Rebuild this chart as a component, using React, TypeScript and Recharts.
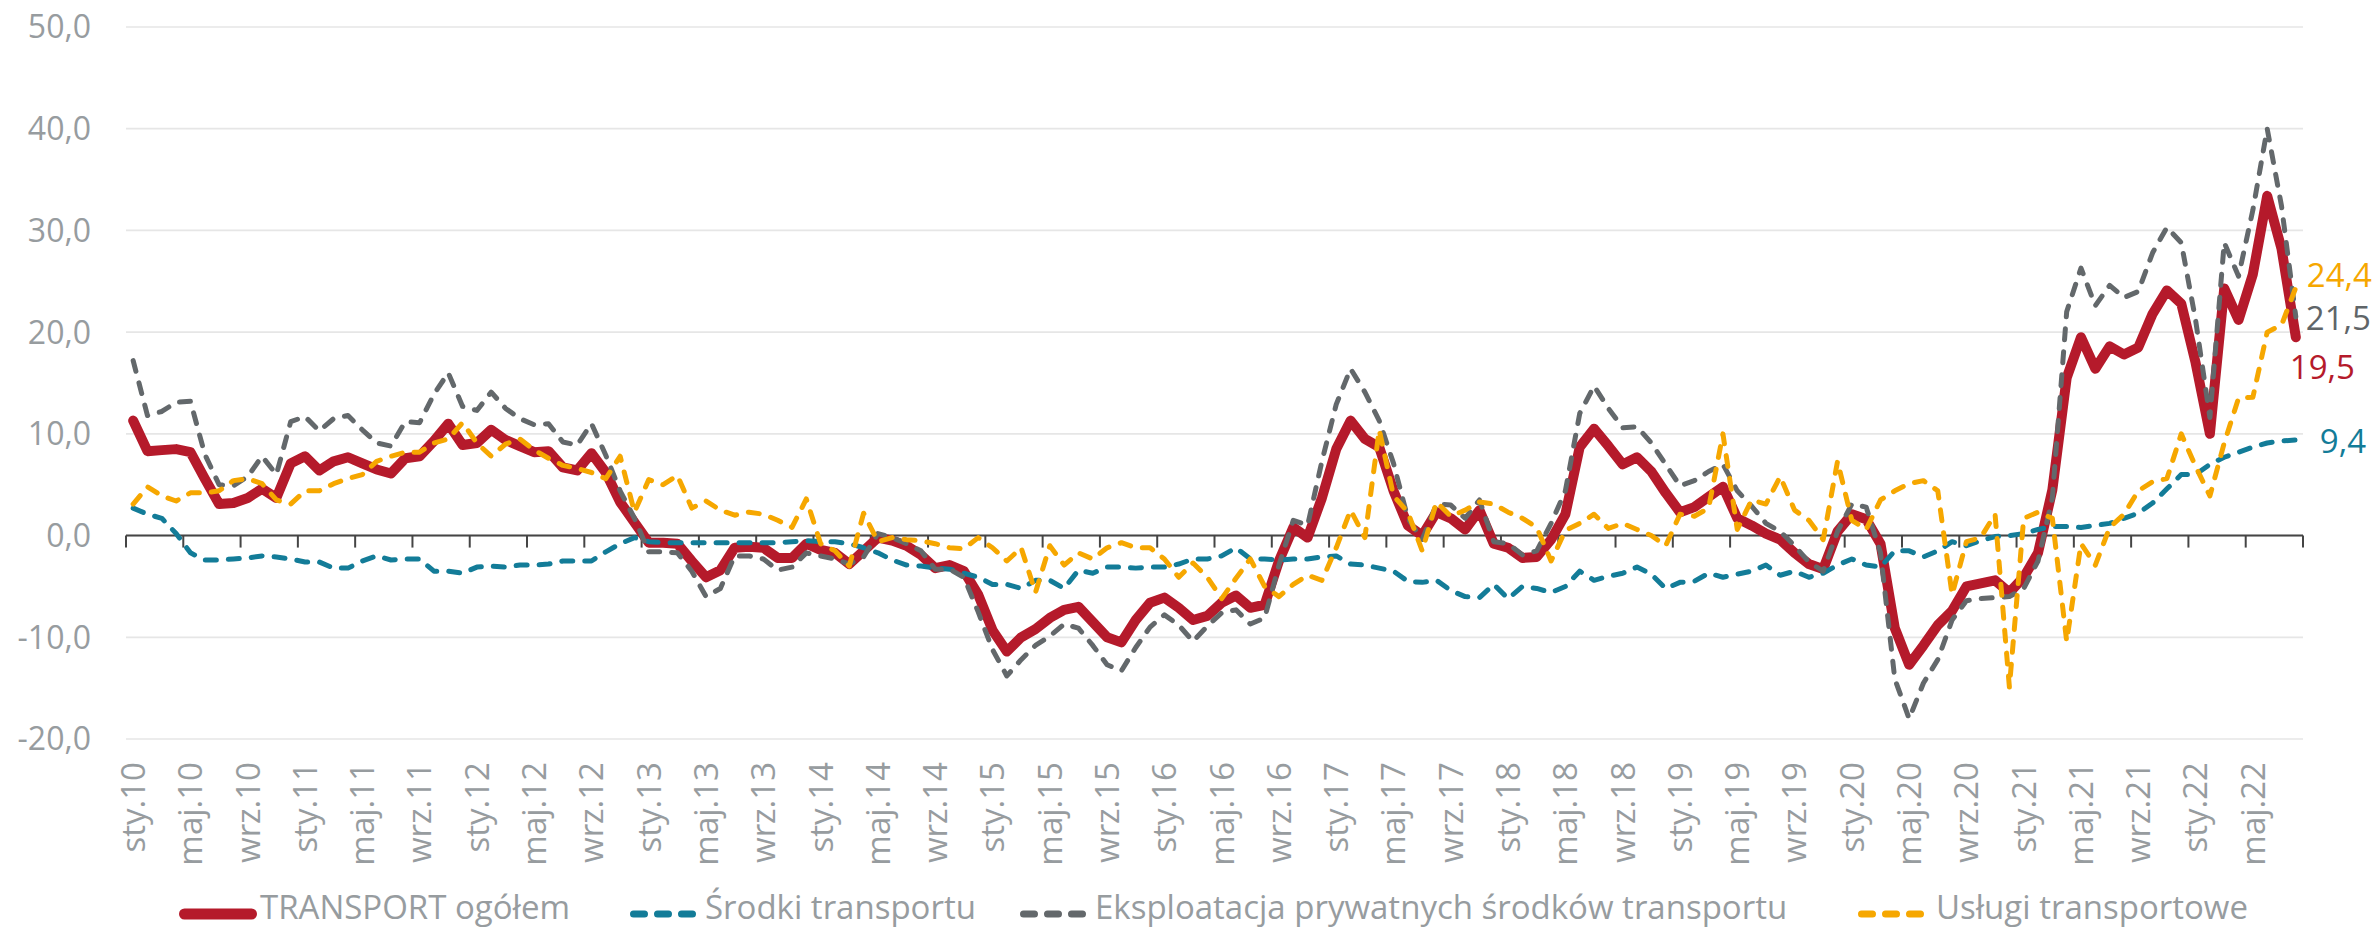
import React from "react"
import {
  LineChart,
  Line,
  XAxis,
  YAxis,
  CartesianGrid,
  ReferenceLine,
  Legend,
  LabelList,
} from "recharts"

const FONT = '"Open Sans", "Liberation Sans", sans-serif'
const TEXT_GRAY = "#979c9f"

const monthNames = ["sty", "lut", "mar", "kwi", "maj", "cze", "lip", "sie", "wrz", "paź", "lis", "gru"]
const yearLabels = ["10", "11", "12", "13", "14", "15", "16", "17", "18", "19", "20", "21", "22"]

const transport = [
  11.3, 8.3, 8.4, 8.5, 8.2, 5.6, 3.1, 3.2, 3.7, 4.6, 3.7, 7.1,
  7.8, 6.4, 7.3, 7.7, 7.1, 6.5, 6.1, 7.6, 7.8, 9.3, 11.0, 8.9,
  9.1, 10.4, 9.4, 8.8, 8.2, 8.3, 6.7, 6.4, 8.1, 6.2, 3.3, 1.3,
  -0.7, -0.7, -0.8, -2.5, -4.1, -3.4, -1.2, -1.1, -1.2, -2.2, -2.2, -0.8,
  -1.4, -1.7, -2.8, -1.5, -0.2, -0.5, -1.0, -1.9, -3.2, -2.9, -3.5, -5.8,
  -9.3, -11.4, -10.0, -9.2, -8.1, -7.3, -7.0, -8.5, -10.0, -10.5, -8.3, -6.6,
  -6.1, -7.1, -8.3, -7.9, -6.6, -5.9, -7.1, -6.8, -2.5, 0.8, -0.2, 3.7,
  8.5, 11.3, 9.5, 8.7, 4.4, 1.0, 0.0, 2.3, 1.7, 0.6, 2.5, -0.8,
  -1.2, -2.2, -2.1, -0.4, 2.1, 8.7, 10.5, 8.8, 7.0, 7.7, 6.3, 4.2,
  2.3, 2.8, 3.8, 4.8, 1.7, 1.0, 0.2, -0.4, -1.7, -2.8, -3.3, 0.4,
  2.1, 1.6, -0.8, -9.1, -12.7, -10.8, -8.8, -7.4, -5.0, -4.7, -4.4, -5.6,
  -4.1, -1.7, 4.5, 15.5, 19.5, 16.4, 18.6, 17.8, 18.5, 21.8, 24.1, 22.8,
  17.0, 10.0, 24.3, 21.2, 25.7, 33.4, 28.2, 19.5,
]

const srodki = [
  2.7, 2.1, 1.7, 0.2, -1.7, -2.4, -2.4, -2.3, -2.2, -2.0, -2.1, -2.3,
  -2.6, -2.6, -3.2, -3.2, -2.5, -2.0, -2.4, -2.3, -2.3, -3.5, -3.5, -3.7,
  -3.1, -3.0, -3.1, -2.9, -2.9, -2.8, -2.5, -2.5, -2.5, -1.6, -0.8, -0.2,
  -0.6, -0.7, -0.7, -0.7, -0.7, -0.7, -0.7, -0.7, -0.7, -0.7, -0.6, -0.5,
  -0.6, -0.6, -0.8, -1.2, -1.7, -2.4, -2.9, -3.0, -3.2, -3.3, -3.7, -4.1,
  -4.8, -4.8, -5.2, -4.4, -4.4, -5.2, -3.4, -3.7, -3.1, -3.1, -3.2, -3.1,
  -3.1, -2.8, -2.3, -2.3, -2.0, -1.2, -2.3, -2.3, -2.4, -2.3, -2.3, -2.1,
  -2.0, -2.8, -2.9, -3.2, -3.5, -4.5, -4.6, -4.4, -5.4, -6.0, -6.1, -4.8,
  -6.2, -5.0, -5.2, -5.6, -5.0, -3.5, -4.4, -4.0, -3.7, -3.1, -3.8, -5.2,
  -4.6, -4.5, -3.7, -4.1, -3.8, -3.5, -2.9, -3.9, -3.5, -4.1, -3.7, -2.9,
  -2.3, -2.9, -3.1, -1.5, -1.5, -2.1, -1.5, -0.6, -1.0, -0.5, -0.1, 0.0,
  0.2, 0.6, 0.9, 0.9, 0.8, 1.0, 1.2, 1.7, 2.2, 3.2, 4.6, 6.0,
  6.0, 7.0, 7.7, 8.2, 8.7, 9.1, 9.3, 9.4,
]

const eksploatacja = [
  17.2, 11.8, 12.2, 13.1, 13.2, 8.0, 5.0, 4.9, 5.8, 7.8, 6.0, 11.2,
  11.7, 10.3, 11.5, 11.8, 10.4, 9.1, 8.8, 11.2, 11.1, 13.9, 16.0, 12.7,
  12.3, 14.1, 12.5, 11.5, 10.9, 11.0, 9.2, 8.9, 11.0, 7.9, 4.4, 1.7,
  -1.6, -1.6, -1.7, -3.5, -6.0, -5.2, -2.0, -2.0, -2.3, -3.4, -3.1, -1.7,
  -2.0, -2.3, -2.8, -2.1, 0.2, -0.2, -0.8, -1.5, -3.3, -3.3, -4.1, -7.5,
  -11.2, -13.8, -12.2, -10.8, -9.9, -8.7, -9.1, -10.8, -12.7, -13.3, -11.0, -9.0,
  -7.8, -8.8, -10.4, -8.9, -7.6, -7.3, -8.7, -8.1, -2.9, 1.5, 1.0, 7.3,
  12.9, 16.4, 14.1, 11.3, 7.1, 1.7, -0.4, 3.1, 3.0, 1.7, 3.5, -0.6,
  -0.8, -1.9, -1.5, 1.2, 4.4, 12.0, 14.7, 12.5, 10.6, 10.7, 9.1, 7.0,
  4.9, 5.4, 6.3, 7.0, 4.4, 2.9, 1.2, 0.4, -1.0, -2.6, -3.5, 0.4,
  3.1, 2.8, -1.7, -14.1, -18.0, -14.5, -12.2, -8.3, -6.4, -6.2, -6.1, -6.0,
  -5.2, -2.5, 3.7, 22.0, 26.3, 22.6, 24.6, 23.4, 24.0, 27.8, 30.3, 28.8,
  21.2, 11.6, 28.8, 25.5, 32.0, 40.0, 32.4, 21.5,
]

const uslugi = [
  3.1, 4.8, 3.9, 3.4, 4.2, 4.2, 4.4, 5.4, 5.6, 5.1, 3.5, 3.1,
  4.4, 4.4, 5.1, 5.6, 6.0, 7.3, 7.8, 8.2, 8.2, 9.1, 9.5, 11.1,
  9.1, 7.8, 9.0, 9.5, 8.4, 7.6, 6.9, 6.6, 6.2, 5.6, 7.8, 2.3,
  5.5, 5.0, 5.9, 2.7, 3.4, 2.5, 2.0, 2.3, 2.1, 1.5, 0.8, 3.6,
  -0.8, -1.5, -3.0, 2.2, -0.6, -0.2, -0.4, -0.5, -0.8, -1.2, -1.3, -0.2,
  -1.2, -2.5, -1.2, -5.6, -1.0, -2.9, -1.7, -2.3, -1.2, -0.7, -1.2, -1.2,
  -2.3, -4.1, -2.7, -4.1, -6.2, -4.2, -2.3, -5.0, -6.0, -4.8, -3.9, -4.4,
  -1.2, 2.5, -0.2, 10.4, 3.9, 2.3, -1.5, 3.3, 1.9, 2.5, 3.3, 3.1,
  2.3, 1.7, 0.8, -2.5, 0.5, 1.2, 2.1, 0.7, 1.2, 0.6, 0.0, -1.0,
  2.1, 1.9, 2.7, 10.0, 0.6, 3.5, 3.1, 5.8, 2.5, 1.5, -0.4, 7.3,
  1.5, 0.6, 3.5, 4.4, 5.1, 5.4, 4.4, -5.8, -0.6, -0.2, 2.1, -14.9,
  1.7, 2.3, 1.7, -10.4, -0.8, -2.9, 0.8, 2.1, 4.4, 5.3, 5.6, 10.0,
  6.8, 3.9, 9.1, 13.5, 13.6, 20.0, 20.7, 24.4,
]

const yTicks = [-20, -10, 0, 10, 20, 30, 40, 50]

const categories = yearLabels
  .flatMap((y) => monthNames.map((m) => `${m}.${y}`))
  .slice(0, transport.length)

const data = categories.map((month, i) => ({
  month,
  transport: transport[i],
  srodki: srodki[i],
  eksploatacja: eksploatacja[i],
  uslugi: uslugi[i],
}))

const LABEL_EVERY = 4

type SeriesDef = {
  key: string
  name: string
  color: string
  width: number
  dash?: string
  labelColor: string
  labelDx: number
  labelDy: number
  legendIconLeft: number
  legendIconWidth: number
  legendTextLeft: number
}

const series: SeriesDef[] = [
  {
    key: "transport",
    name: "TRANSPORT ogółem",
    color: "#b51a2b",
    width: 10,
    labelColor: "#b51a2b",
    labelDx: -6,
    labelDy: 42,
    legendIconLeft: 179,
    legendIconWidth: 78,
    legendTextLeft: 260,
  },
  {
    key: "srodki",
    name: "Środki transportu",
    color: "#137c98",
    width: 5,
    dash: "11 12",
    labelColor: "#137c98",
    labelDx: 24,
    labelDy: 13,
    legendIconLeft: 630,
    legendIconWidth: 66,
    legendTextLeft: 705,
  },
  {
    key: "eksploatacja",
    name: "Eksploatacja prywatnych środków transportu",
    color: "#63686b",
    width: 5,
    dash: "11 12",
    labelColor: "#5f6568",
    labelDx: 10,
    labelDy: 13,
    legendIconLeft: 1020,
    legendIconWidth: 66,
    legendTextLeft: 1095,
  },
  {
    key: "uslugi",
    name: "Usługi transportowe",
    color: "#f6a700",
    width: 5,
    dash: "11 12",
    labelColor: "#f6a700",
    labelDx: 11,
    labelDy: 0,
    legendIconLeft: 1858,
    legendIconWidth: 66,
    legendTextLeft: 1936,
  },
]

const fmt = (v: number) => v.toFixed(1).replace(".", ",")

function MonthTick({ x, y, payload }: any) {
  return (
    <text
      x={x}
      y={y}
      dy="0.36em"
      transform={`rotate(-90, ${x}, ${y})`}
      textAnchor="end"
      fill={TEXT_GRAY}
      fontSize={33}
      fontFamily={FONT}
    >
      {payload.value}
    </text>
  )
}

// zero line with Excel-like tick marks between every 4th category
function ZeroAxis(props: any) {
  const { x1, x2, y1 } = props
  const groups = Math.ceil(categories.length / LABEL_EVERY)
  const step = (x2 - x1) / groups
  const marks = Array.from({ length: groups + 1 }, (_, k) => x1 + k * step)
  return (
    <g>
      <line x1={x1} x2={x2} y1={y1} y2={y1} stroke="#454545" strokeWidth={2} />
      {marks.map((mx, k) => (
        <line key={k} x1={mx} x2={mx} y1={y1} y2={y1 + 12} stroke="#454545" strokeWidth={2} />
      ))}
    </g>
  )
}

function endLabel(s: SeriesDef) {
  return (props: any) => {
    const { index, value } = props
    if (index !== data.length - 1) return null
    const x = props.viewBox?.x ?? props.x
    const y = props.viewBox?.y ?? props.y
    return (
      <text
        x={x + s.labelDx}
        y={y + s.labelDy}
        fill={s.labelColor}
        fontSize={33}
        fontFamily={FONT}
      >
        {fmt(value)}
      </text>
    )
  }
}

function renderLegend() {
  return (
    <div
      style={{
        position: "relative",
        width: 2376,
        height: 46,
        fontFamily: FONT,
        fontSize: 33,
        color: TEXT_GRAY,
      }}
    >
      {series.map((s) => {
        const sw = s.dash ? 7 : 11
        return (
          <React.Fragment key={s.key}>
            <svg
              width={s.legendIconWidth}
              height={24}
              style={{ position: "absolute", left: s.legendIconLeft, top: 18 }}
            >
              <line
                x1={sw / 2}
                x2={s.legendIconWidth - sw / 2}
                y1={12}
                y2={12}
                stroke={s.color}
                strokeWidth={sw}
                strokeLinecap="round"
                strokeDasharray={s.dash ? "11 13" : undefined}
              />
            </svg>
            <span
              style={{
                position: "absolute",
                left: s.legendTextLeft,
                top: 0,
                lineHeight: "45px",
                whiteSpace: "nowrap",
              }}
            >
              {s.name}
            </span>
          </React.Fragment>
        )
      })}
    </div>
  )
}

export default function App() {
  return (
    <div style={{ position: "absolute", left: 0, top: 0, width: 2376, height: 931, background: "#fff" }}>
      <LineChart
        width={2376}
        height={931}
        data={data}
        margin={{ top: 27, right: 73, bottom: 0, left: 0 }}
      >
        <CartesianGrid vertical={false} stroke="#e6e6e6" strokeWidth={1.7} />
        <XAxis
          dataKey="month"
          scale="band"
          interval={LABEL_EVERY - 1}
          height={192}
          axisLine={false}
          tickLine={false}
          tickSize={0}
          tickMargin={23}
          tick={<MonthTick />}
        />
        <YAxis
          domain={[-20, 50]}
          ticks={yTicks}
          width={126}
          axisLine={false}
          tickLine={false}
          tickSize={0}
          tickMargin={35}
          tickFormatter={fmt}
          tick={{ fill: TEXT_GRAY, fontSize: 32, fontFamily: FONT }}
        />
        <ReferenceLine y={0} shape={ZeroAxis} />
        {series.map((s) => (
          <Line
            key={s.key}
            type="linear"
            dataKey={s.key}
            name={s.name}
            stroke={s.color}
            strokeWidth={s.width}
            strokeDasharray={s.dash}
            strokeLinecap="round"
            strokeLinejoin="round"
            dot={false}
            activeDot={false}
            isAnimationActive={false}
          >
            <LabelList dataKey={s.key} content={endLabel(s)} />
          </Line>
        ))}
        <Legend
          layout="horizontal"
          verticalAlign="middle"
          align="center"
          wrapperStyle={{ left: 0, top: 884, width: 2376, height: 46 }}
          content={renderLegend}
        />
      </LineChart>
    </div>
  )
}
